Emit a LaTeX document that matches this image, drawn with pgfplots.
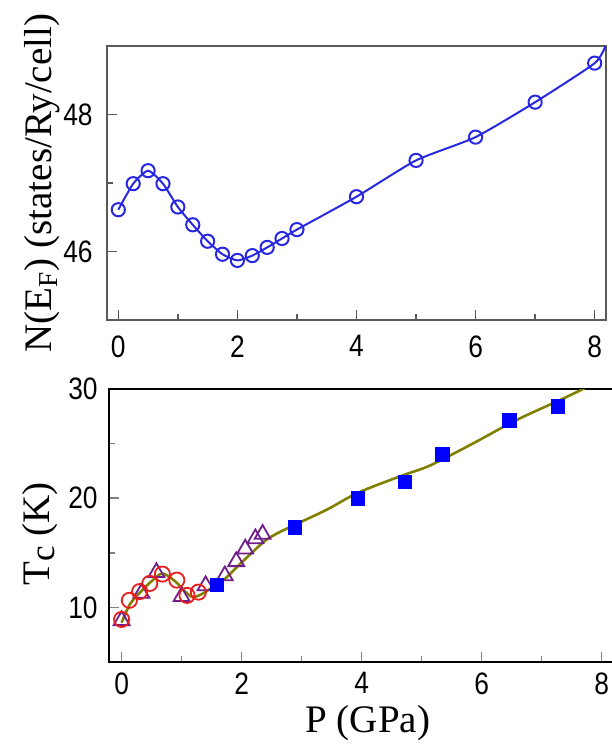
\documentclass[border=0pt]{standalone}
\usepackage{fontspec}
\setmainfont{Liberation Serif}
\newfontfamily\ticksf[FakeStretch=0.85]{Liberation Sans}
\newcommand\labelfont{\fontsize{19.5}{20}\selectfont}
\usepackage{pgfplots}
\pgfplotsset{compat=1.18}

\definecolor{dosblue}{RGB}{40,40,225}
\definecolor{tcred}{RGB}{235,30,30}
\definecolor{tcpurple}{RGB}{112,30,140}
\definecolor{tcblue}{RGB}{0,0,255}
\definecolor{fitolive}{RGB}{128,128,0}

\pgfplotsset{
  panel/.style={
    scale only axis,
    axis line style={line width=1pt},
    tick pos=left, tick align=inside,
    major tick length=5pt, minor tick length=3pt,
    tick style={line width=0.8pt},
    tick label style={font=\ticksf\fontsize{15.5}{15.5}\selectfont},
    /pgf/number format/assume math mode=true,
  }
}

% pressure dependence of N(E_F)
\pgfplotstableread{
P    NEF
0    46.61
0.25 46.99
0.5  47.18
0.75 46.99
1    46.65
1.25 46.39
1.5  46.15
1.75 45.96
2    45.87
2.25 45.94
2.5  46.06
2.75 46.19
3    46.32
4    46.80
5    47.33
6    47.67
7    48.18
8    48.75
}\dostable

\begin{document}
\begin{tikzpicture}
% ---------- upper panel: density of states at E_F ----------
\begin{axis}[panel,
  at={(53.5pt,-23pt)}, anchor=north west,
  width=249.5pt, height=137pt,
  xmin=-0.19, xmax=8.19, ymin=45, ymax=49,
  axis line style={black!65, line width=1pt},
  tick style={black!65, line width=0.8pt},
  xtick={0,2,4,6,8}, minor xtick={1,3,5,7},
  ytick={46,48}, minor ytick={47},
  xticklabel style={inner sep=0pt, yshift=-7.5pt},
  yticklabel style={inner sep=0pt, xshift=-7pt},
  ylabel={N(E\textsubscript{F}) (states/Ry/cell)},
  every axis y label/.style={at={(axis description cs:-0.112,0.5)}, rotate=90, anchor=base, font=\labelfont},
]
\addplot[dosblue, line width=1pt, smooth, tension=0.35, forget plot]
  coordinates {(0,46.61) (0.25,46.99) (0.5,47.18) (0.75,46.99) (1,46.65)
    (1.25,46.39) (1.5,46.15) (1.75,45.96) (2,45.87) (2.25,45.94) (2.5,46.06)
    (2.75,46.19) (3,46.32) (4,46.80) (5,47.33) (6,47.67) (7,48.18) (8,48.75) (8.19,49.02)};
\addplot[only marks, mark=o, mark size=3.3pt, dosblue, mark options={line width=1pt, fill=white}]
  table[x=P, y=NEF] {\dostable};
\end{axis}

% ---------- lower panel: superconducting T_c ----------
\begin{axis}[panel,
  at={(54.5pt,-194.5pt)}, anchor=north west,
  width=253.8pt, height=136.5pt,
  xmin=-0.21, xmax=8.25, ymin=5, ymax=30,
  xtick={0,2,4,6,8}, minor xtick={1,3,5,7},
  ytick={10,20,30}, minor ytick={15,25},
  xticklabel style={inner sep=0pt, yshift=-5pt},
  yticklabel style={inner sep=0pt, xshift=-5.5pt},
  xlabel={P (GPa)},
  every axis x label/.style={at={(axis description cs:0.51,-0.26)}, anchor=base, font=\labelfont},
  ylabel={T\raisebox{-0.3ex}{\scalebox{0.9}{c}} (K)},
  every axis y label/.style={at={(axis description cs:-0.118,0.47)}, rotate=90, anchor=base, font=\labelfont},
]
% open triangles
\addplot[only marks, mark=triangle, mark size=4.6pt, tcpurple, mark options={line width=0.9pt}]
  coordinates {(0,8.8) (0.33,11.3) (0.58,13.2) (1.0,11.0) (1.40,12.0) (1.72,12.9)
    (1.91,14.2) (2.06,15.35) (2.23,16.3) (2.35,16.7)};
% open circles
\addplot[only marks, mark=o, mark size=3.8pt, tcred, mark options={line width=0.9pt}]
  coordinates {(0,8.9) (0.13,10.65) (0.30,11.45) (0.47,12.2) (0.68,13.05)
    (0.92,12.5) (1.09,11.1) (1.28,11.4)};
% guide to the eye
\addplot[fitolive, line width=1.3pt, smooth, tension=0.5]
  coordinates {(0,8.6) (0.14,10.3) (0.33,11.5) (0.5,12.4) (0.68,13.1) (0.89,12.4)
    (1.05,11.5) (1.18,10.95) (1.33,11.2) (1.5,11.8) (1.72,12.6) (1.94,13.8)
    (2.17,15.0) (2.39,16.1) (2.6,16.8) (2.9,17.6) (3.42,18.95) (3.94,20.5)
    (4.64,22.0) (5.08,22.85) (5.42,23.76) (5.92,25.2) (6.42,26.7) (6.75,27.6)
    (7.31,29.0) (7.69,30.0) (7.9,30.6)};
% filled squares
\addplot[only marks, mark=square*, mark size=3.4pt, tcblue]
  coordinates {(1.59,12.05) (2.89,17.3) (3.94,20.0) (4.72,21.5) (5.35,24.0)
    (6.46,27.1) (7.27,28.4)};
\end{axis}

\pgfresetboundingbox
\path[use as bounding box] (0,0) rectangle (305.5pt,-372pt);
\end{tikzpicture}
\end{document}
